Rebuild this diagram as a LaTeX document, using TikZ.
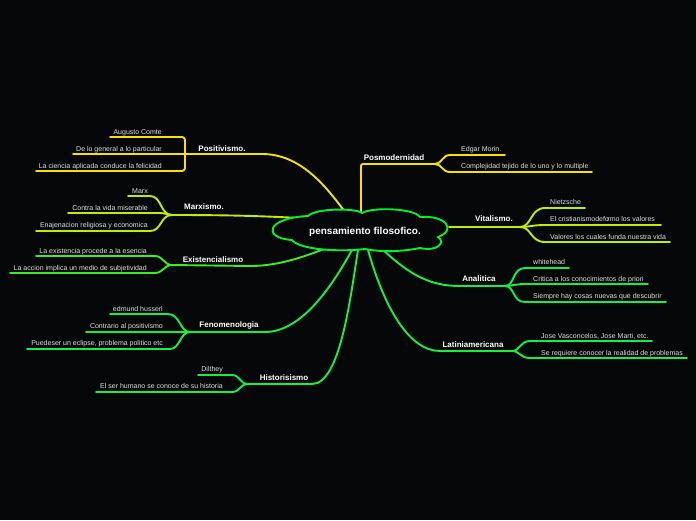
\documentclass[tikz,border=0pt]{standalone}
\usepackage{fontspec}
\setmainfont{Liberation Sans}
\definecolor{bg}{HTML}{050709}
\definecolor{cyel}{HTML}{F5E400}
\definecolor{clime}{HTML}{BEEE00}
\definecolor{cgrn}{HTML}{3CEC1E}
\definecolor{cgreen}{HTML}{14F040}
\definecolor{ccloud}{HTML}{00F030}
\definecolor{leafgray}{HTML}{E0E0E0}
\tikzset{
  conn/.style={line width=1.9pt, line cap=round, line join=round},
  leaftxt/.style={font=\fontsize{7}{8}\selectfont, text=leafgray, inner sep=0pt},
  lefttxt/.style={leaftxt, anchor=base east},
  righttxt/.style={leaftxt, anchor=base west},
  branchtxt/.style={font=\bfseries\fontsize{8}{9}\selectfont, text=white, inner sep=0pt, anchor=base},
}
\begin{document}
\begin{tikzpicture}[x=1pt,y=-1pt]
\fill[bg] (0,0) rectangle (696,520);
\useasboundingbox (0,0) rectangle (696,520);

% ---------- coordinates ----------
\coordinate (cPos) at (345,212);
\coordinate (cMar) at (300,218);
\coordinate (cExi) at (335,245);
\coordinate (cFen) at (352,250);
\coordinate (cHis) at (358,250);
\coordinate (cPosm) at (361,213);
\coordinate (cVit) at (449,227);
\coordinate (cAna) at (382,249);
\coordinate (cLat) at (368,250);

% ---------- Positivismo ----------
\coordinate (posA) at (110,137);
\coordinate (posB) at (73,154);
\coordinate (posC) at (36,171);
\coordinate (posJ) at (185,154);
\draw[conn,cyel,rounded corners=3pt] (posA) -- (185,137) -- (185,171) -- (posC);
\draw[conn,cyel] (posB) -- (posJ) -- (262,154) .. controls (300,154) and (325,185) .. (cPos);
\node[lefttxt] (t-pos1) at (162,134) {Augusto Comte};
\node[lefttxt] (t-pos2) at (162,151) {De lo general a lo particular};
\node[lefttxt] (t-pos3) at (162,168) {La ciencia aplicada conduce la felicidad};
\node[branchtxt] (Positivismo) at (222,151) {Positivismo.};

% ---------- Marxismo ----------
\coordinate (marA) at (128,196);
\coordinate (marB) at (68,213);
\coordinate (marC) at (36,231);
\coordinate (marJ) at (172,215);
\draw[conn,clime] (marA) -- (150,196) .. controls (162,196) and (160,215) .. (marJ);
\draw[conn,clime] (marB) -- (160,213) .. controls (165,213) and (168,215) .. (marJ);
\draw[conn,clime] (marC) -- (150,231) .. controls (162,231) and (160,215) .. (marJ);
\draw[conn,clime] (marJ) .. controls (230,215) and (260,216) .. (cMar);
\node[lefttxt] (t-mar1) at (148,193) {Marx};
\node[lefttxt] (t-mar2) at (148,210) {Contra la vida miserable};
\node[lefttxt] (t-mar3) at (148,227) {Enajenacion religiosa y economica};
\node[branchtxt] (Marxismo) at (204,209) {Marxismo.};

% ---------- Existencialismo ----------
\coordinate (exiA) at (36,256);
\coordinate (exiB) at (10,273);
\coordinate (exiJ) at (172,265);
\draw[conn,cgrn] (exiA) -- (155,256) .. controls (163,256) and (164,265) .. (exiJ);
\draw[conn,cgrn] (exiB) -- (155,273) .. controls (163,273) and (164,265) .. (exiJ);
\draw[conn,cgrn] (exiJ) -- (250,266) .. controls (285,266) and (315,252) .. (cExi);
\node[lefttxt] (t-exi1) at (147,253) {La existencia procede a la esencia};
\node[lefttxt] (t-exi2) at (147,270) {La accion implica un medio de subjetividad};
\node[branchtxt] (Existencialismo) at (213,262) {Existencialismo};

% ---------- Fenomenologia ----------
\coordinate (fenA) at (110,314);
\coordinate (fenB) at (86,332);
\coordinate (fenC) at (27,349);
\coordinate (fenJ) at (190,332);
\draw[conn,cgreen] (fenA) -- (168,314) .. controls (180,314) and (180,332) .. (fenJ);
\draw[conn,cgreen] (fenB) -- (fenJ);
\draw[conn,cgreen] (fenC) -- (170,349) .. controls (180,349) and (180,332) .. (fenJ);
\draw[conn,cgreen] (fenJ) -- (265,332) .. controls (300,332) and (330,290) .. (cFen);
\node[lefttxt] (t-fen1) at (163,311) {edmund husserl};
\node[lefttxt] (t-fen2) at (163,328) {Contrario al positivismo};
\node[lefttxt] (t-fen3) at (163,345) {Puedeser un eclipse, problema politico etc};
\node[branchtxt] (Fenomenologia) at (229,327) {Fenomenologia};

% ---------- Historisismo ----------
\coordinate (hisA) at (198,375);
\coordinate (hisB) at (96,392);
\coordinate (hisJ) at (248,384);
\draw[conn,cgreen] (hisA) -- (232,375) .. controls (240,375) and (240,384) .. (hisJ);
\draw[conn,cgreen] (hisB) -- (232,392) .. controls (240,392) and (240,384) .. (hisJ);
\draw[conn,cgreen] (hisJ) -- (312,384) .. controls (340,384) and (350,300) .. (cHis);
\node[lefttxt] (t-his1) at (223,371) {Dilthey};
\node[lefttxt] (t-his2) at (223,388) {El ser humano se conoce de su historia};
\node[branchtxt] (Historisismo) at (284,380) {Historisismo};

% ---------- Posmodernidad ----------
\coordinate (psmJ) at (435,164);
\coordinate (psmA) at (505,155);
\coordinate (psmB) at (592,172);
\draw[conn,cyel,rounded corners=2pt] (cPosm) -- (361,164) -- (psmJ);
\draw[conn,cyel] (psmJ) .. controls (442,164) and (442,155) .. (450,155) -- (psmA);
\draw[conn,cyel] (psmJ) .. controls (442,164) and (442,172) .. (450,172) -- (psmB);
\node[righttxt] (t-psm1) at (461,151) {Edgar Morin.};
\node[righttxt] (t-psm2) at (461,168) {Complejidad tejido de lo uno y lo multiple};
\node[branchtxt] (Posmodernidad) at (394,160) {Posmodernidad};

% ---------- Vitalismo ----------
\coordinate (vitJ) at (520,227);
\coordinate (vitA) at (585,208);
\coordinate (vitB) at (661,225);
\coordinate (vitC) at (670,242);
\draw[conn,clime] (cVit) -- (vitJ);
\draw[conn,clime] (vitJ) .. controls (532,227) and (530,208) .. (545,208) -- (vitA);
\draw[conn,clime] (vitJ) .. controls (530,227) and (532,225) .. (545,225) -- (vitB);
\draw[conn,clime] (vitJ) .. controls (532,227) and (530,242) .. (545,242) -- (vitC);
\node[righttxt] (t-vit1) at (550,204) {Nietzsche};
\node[righttxt] (t-vit2) at (550,221) {El cristianismodefo\kern-1.5pt\raisebox{-0.8pt}{rmo los valores}};
\node[righttxt] (t-vit3) at (550,239) {Valores los cuales funda nuestra vida};
\node[branchtxt] (Vitalismo) at (494,221) {Vitalismo.};

% ---------- Analitica ----------
\coordinate (anaJ) at (505,286);
\coordinate (anaA) at (569,268);
\coordinate (anaB) at (648,284);
\coordinate (anaC) at (666,302);
\draw[conn,cgreen] (cAna) .. controls (410,275) and (430,286) .. (460,286) -- (anaJ);
\draw[conn,cgreen] (anaJ) .. controls (515,286) and (512,268) .. (525,268) -- (anaA);
\draw[conn,cgreen] (anaJ) .. controls (512,286) and (515,284) .. (525,284) -- (anaB);
\draw[conn,cgreen] (anaJ) .. controls (515,286) and (512,302) .. (525,302) -- (anaC);
\node[righttxt] (t-ana1) at (533,264) {whitehead};
\node[righttxt] (t-ana2) at (533,281) {Critica a los conocimientos de priori};
\node[righttxt] (t-ana3) at (533,298) {Siempre hay cosas nuevas que descubrir};
\node[branchtxt] (Analitica) at (479,281) {Analitica};

% ---------- Latiniamericana ----------
\coordinate (latJ) at (512,351);
\coordinate (latA) at (652,341);
\coordinate (latB) at (687,358);
\draw[conn,cgreen] (cLat) .. controls (385,310) and (410,351) .. (440,351) -- (latJ);
\draw[conn,cgreen] (latJ) .. controls (520,351) and (520,341) .. (530,341) -- (latA);
\draw[conn,cgreen] (latJ) .. controls (520,351) and (520,358) .. (530,358) -- (latB);
\node[righttxt] (t-lat1) at (541,338) {Jose Vasconcelos, Jose Marti, etc.};
\node[righttxt] (t-lat2) at (541,355) {Se requiere conocer la realidad de problemas};
\node[branchtxt] (Latiniamericana) at (473,347) {Latiniamericana};

% ---------- central cloud ----------
\draw[line width=1.9pt, ccloud, fill=bg]
  (308,216) .. controls (316,208) and (356,208) .. (362,213)
  .. controls (372,207) and (414,208) .. (420,217)
  .. controls (446,215) and (457,230) .. (438,237)
  .. controls (446,242) and (438,252) .. (420,248)
  .. controls (400,252) and (380,252) .. (365,249)
  .. controls (340,252) and (300,250) .. (292,240)
  .. controls (262,238) and (266,218) .. cycle;
\node[font=\bfseries\fontsize{10}{12}\selectfont, text=white, inner sep=0pt] (center) at (365,232) {pensamiento filosofico.};
\end{tikzpicture}
\end{document}
